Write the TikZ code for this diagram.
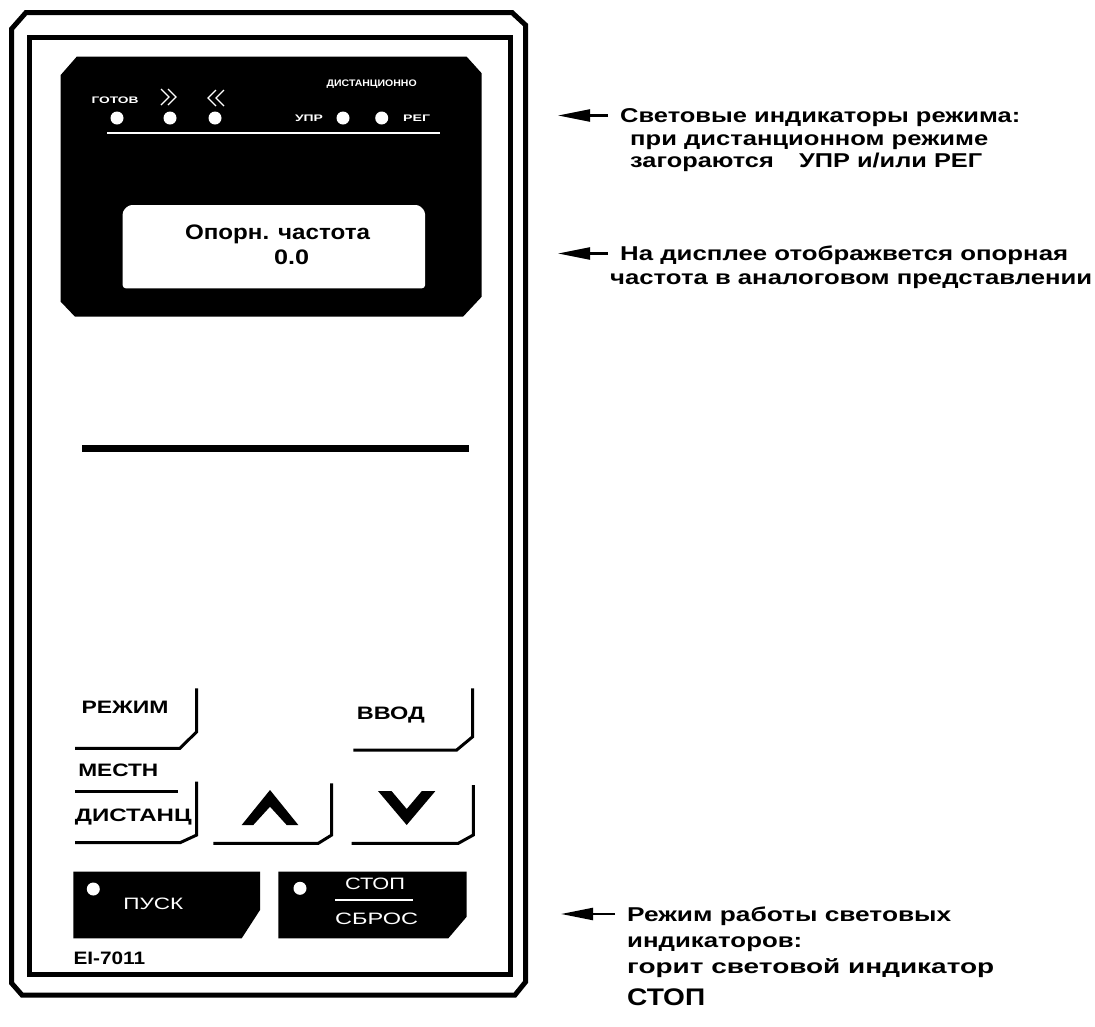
\documentclass[tikz,border=0pt]{standalone}
\usepackage{fontspec}
\usepackage{graphicx}
\setmainfont{Liberation Sans}
\usetikzlibrary{arrows.meta}
\newcommand\fitw[2]{\resizebox{#1pt}{\height}{#2}}
\tikzset{
  ann/.style={anchor=base west, inner sep=0pt, font=\fontsize{20}{24}\selectfont\bfseries},
  keytxt/.style={anchor=base, inner sep=0pt, font=\fontsize{18}{20}\selectfont\bfseries},
  disptxt/.style={anchor=base, inner sep=0pt, font=\fontsize{21}{24}\selectfont\bfseries},
  plbl/.style={anchor=base, inner sep=0pt, text=white, font=\fontsize{9.5}{10}\selectfont\bfseries},
  wkey/.style={anchor=base, inner sep=0pt, text=white, font=\fontsize{16.5}{18}\selectfont},
  framel/.style={line width=5pt, line join=miter},
  keyline/.style={line width=3pt},
  ledw/.style={fill=white},
  callout/.style={line width=2.2pt, -{Triangle[length=32pt,width=12pt]}},
}
\begin{document}
\begin{tikzpicture}[x=1pt,y=-1pt]
\useasboundingbox (0,0) rectangle (1095,1026);
% frames
\draw[framel] (11.5,29) -- (26,12.5) -- (512,12.5) -- (525.5,25) -- (525.5,982) -- (515,995) -- (22,995) -- (11.5,983) -- cycle;
\draw[framel] (29,37.5) rectangle (510.5,974.5);
% dark panel
\fill (76.7,56.7) -- (466.7,56.7) -- (481.7,73.3) -- (481.7,296.7) -- (463,316.7) -- (75,316.7) -- (60.7,301.7) -- (60.7,75) -- cycle;
% panel labels
\node[plbl] (gotov) at (115,103.5) {\fitw{47}{ГОТОВ}};
\node[plbl] (dist) at (371.7,86.8) {\fitw{90}{ДИСТАНЦИОННО}};
\node[plbl] (upr) at (309,121.5) {\fitw{28}{УПР}};
\node[plbl] (reg) at (416.7,121.5) {\fitw{27}{РЕГ}};
\draw[white, line width=1.3pt] (161,89) -- (169,97) -- (161,105) (168,89) -- (176,97) -- (168,105);
\draw[white, line width=1.3pt] (216,90) -- (208,98) -- (216,106) (224,90) -- (216,98) -- (224,106);
\fill[ledw] (117,118) circle[radius=6.5pt];
\fill[ledw] (170,118) circle[radius=6.5pt];
\fill[ledw] (215,118) circle[radius=6.5pt];
\fill[ledw] (343,118) circle[radius=6.5pt];
\fill[ledw] (381.7,118) circle[radius=6.5pt];
\draw[white, line width=2pt] (107,133) -- (440,133);
% display
\fill[white, rounded corners=3pt] (129,205) -- (419,205) -- (425,211) -- (425,288.3) -- (122.7,288.3) -- (122.7,211) -- cycle;
\node[disptxt] (oporn) at (277.5,239.2) {\fitw{185}{Опорн. частота}};
\node[disptxt] (zero) at (291.7,264.2) {\fitw{35}{0.0}};
% bar
\fill (81.7,445) rectangle (469.3,452);
% keys
\draw[keyline] (196.7,688.3) -- (196.7,731.7) -- (180,748.3) -- (75,748.3);
\draw[keyline] (472.7,688.3) -- (472.7,736.7) -- (456.7,750) -- (353.3,750);
\draw[keyline] (196.7,781.7) -- (196.7,835) -- (180,842.7) -- (75,842.7);
\draw[keyline] (331.7,783.3) -- (331.7,835) -- (318.3,843.3) -- (213.3,843.3);
\draw[keyline] (473.3,785) -- (473.3,835) -- (458.3,843.3) -- (351.7,843.3);
\draw[keyline] (75,791.7) -- (178.3,791.7);
\node[keytxt] (rezhim) at (125,713.2) {\fitw{87}{РЕЖИМ}};
\node[keytxt] (vvod) at (390.8,719.8) {\fitw{68}{ВВОД}};
\node[keytxt] (mestn) at (118.3,776.5) {\fitw{80}{МЕСТН}};
\node[keytxt] (distanc) at (133.3,821.5) {\fitw{116.7}{ДИСТАНЦ}};
\fill (241.7,825) -- (270,790) -- (298.3,825) -- (286.7,825) -- (270,806.7) -- (253.3,825) -- cycle;
\fill (378,791) -- (391.5,791) -- (406.7,809) -- (421.9,791) -- (435.4,791) -- (406.7,825) -- cycle;
% run / stop keys
\fill (73.3,871.7) -- (260,871.7) -- (260,910) -- (241.7,938.3) -- (73.3,938.3) -- cycle;
\fill (278.3,871.7) -- (466.7,871.7) -- (466.7,916.7) -- (448.3,938.3) -- (278.3,938.3) -- cycle;
\fill[ledw] (93.3,889) circle[radius=6.5pt];
\fill[ledw] (300,888.3) circle[radius=6.5pt];
\node[wkey] (pusk) at (153.3,909.3) {\fitw{60}{ПУСК}};
\node[wkey] (stop) at (375,889.3) {\fitw{60}{СТОП}};
\draw[white, line width=1.5pt] (335,900) -- (413.3,900);
\node[wkey] (sbros) at (376.7,924.3) {\fitw{83}{СБРОС}};
\node[keytxt, anchor=base west] (model) at (73.3,964.8) {\fitw{71.7}{EI-7011}};
% annotations
\node[ann] (t1a) at (620,122.5) {\fitw{400}{Световые индикаторы режима:}};
\node[ann] (t1b) at (630,145.5) {\fitw{358}{при дистанционном режиме}};
\node[ann] (t1c) at (630,167.5) {\fitw{352}{загораются\quad УПР и/или РЕГ}};
\node[ann] (t2a) at (620,260.5) {\fitw{448}{На дисплее отображвется опорная}};
\node[ann] (t2b) at (610,284) {\fitw{482}{частота в аналоговом представлении}};
\node[ann] (t3a) at (627,921) {\fitw{324}{Режим работы световых}};
\node[ann] (t3b) at (627,947) {\fitw{175}{индикаторов:}};
\node[ann] (t3c) at (627,973) {\fitw{367}{горит световой индикатор}};
\node[ann, font=\fontsize{24}{28}\selectfont\bfseries] (t3d) at (627,1005) {\fitw{78}{СТОП}};
\coordinate (a1tail) at (608,115.5);
\coordinate (a1tip) at (558,115.5);
\coordinate (a2tail) at (608,253.5);
\coordinate (a2tip) at (558,253.5);
\coordinate (a3tail) at (615,914);
\coordinate (a3tip) at (561,914);
\draw[callout] (a1tail) -- (a1tip);
\draw[callout] (a2tail) -- (a2tip);
\draw[callout] (a3tail) -- (a3tip);
\end{tikzpicture}
\end{document}
